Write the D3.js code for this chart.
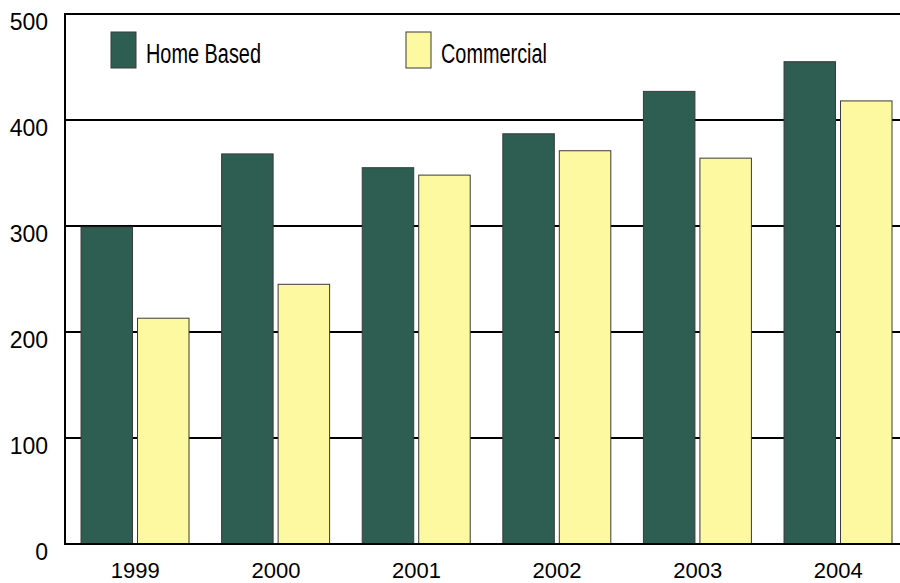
<!DOCTYPE html>
<html>
<head>
<meta charset="utf-8">
<script src="https://cdn.jsdelivr.net/npm/d3@7"></script>
<style>
  body { margin: 0; background: white; }
  text { font-family: "Liberation Sans", Arial, Helvetica, sans-serif; fill: #000; }
</style>
</head>
<body>
<div id="chart"></div>
<script>
// data
const years = ["1999", "2000", "2001", "2002", "2003", "2004"];
const seriesNames = ["Home Based", "Commercial"];
const homeBased = [299, 368, 355, 387, 427, 455];
const commercial = [213, 245, 348, 371, 364, 418];
const yTicks = [0, 100, 200, 300, 400, 500];

const colors = {"Home Based": "#2e5e52", "Commercial": "#fdf9a0"};

const width = 900, height = 583;
const margin = {top: 14, right: 0, bottom: 39, left: 65};

const svg = d3.select("#chart")
  .append("svg")
  .attr("width", width)
  .attr("height", height);

// bands run a bit past the right edge, like the original
const x0 = d3.scaleBand()
    .domain(years)
    .range([margin.left, margin.left + 843.6]);

const x1 = d3.scaleBand()
    .domain(seriesNames)
    .range([x0.bandwidth() * 0.114, x0.bandwidth() * 0.882])
    .paddingInner(0.0885);

const y = d3.scaleLinear()
    .domain([0, 500])
    .range([height - margin.bottom, margin.top]);

// horizontal grid lines
svg.append("g")
  .selectAll("line")
  .data(yTicks.filter(d => d > 0))
  .join("line")
  .attr("x1", margin.left)
  .attr("x2", width)
  .attr("y1", d => y(d))
  .attr("y2", d => y(d))
  .attr("stroke", "#000")
  .attr("stroke-width", 2);

// y labels, sit just under their line
svg.append("g")
  .selectAll("text")
  .data(yTicks)
  .join("text")
  .attr("x", 48)
  .attr("y", d => y(d) + 16)
  .attr("text-anchor", "end")
  .style("font-size", "23px")
  .text(d => d);

// bars
const rows = years.map((yr, i) => ({year: yr, values: [
  {key: "Home Based", value: homeBased[i]},
  {key: "Commercial", value: commercial[i]}
]}));

svg.append("g")
  .selectAll("g")
  .data(rows)
  .join("g")
  .attr("transform", d => `translate(${x0(d.year)},0)`)
  .selectAll("rect")
  .data(d => d.values)
  .join("rect")
  .attr("x", d => x1(d.key))
  .attr("width", x1.bandwidth())
  .attr("y", d => y(d.value))
  .attr("height", d => y(0) - y(d.value))
  .attr("fill", d => colors[d.key])
  .attr("stroke", "#3a3a3a")
  .attr("stroke-width", 1);

// axis lines
svg.append("line")
  .attr("x1", margin.left).attr("x2", margin.left)
  .attr("y1", y(500) - 1).attr("y2", y(0) + 1)
  .attr("stroke", "#000").attr("stroke-width", 2);
svg.append("line")
  .attr("x1", margin.left).attr("x2", width)
  .attr("y1", y(0)).attr("y2", y(0))
  .attr("stroke", "#000").attr("stroke-width", 2);

// x labels
svg.append("g")
  .selectAll("text")
  .data(years)
  .join("text")
  .attr("x", d => x0(d) + x0.bandwidth() / 2)
  .attr("y", 578)
  .attr("text-anchor", "middle")
  .style("font-size", "22px")
  .text(d => d);

// legend
const legendX = [111, 406];
const legendLen = [115, 106];
const legend = svg.append("g")
  .selectAll("g")
  .data(seriesNames)
  .join("g")
  .attr("transform", (d, i) => `translate(${legendX[i]},32)`);

legend.append("rect")
  .attr("width", 25)
  .attr("height", 36)
  .attr("fill", d => colors[d])
  .attr("stroke", "#3a3a3a")
  .attr("stroke-width", 1);

legend.append("text")
  .attr("x", 35)
  .attr("y", 31)
  .style("font-family", "'Liberation Sans Narrow', 'Liberation Sans', Arial, sans-serif")
  .style("font-size", "27px")
  .attr("textLength", (d, i) => legendLen[i])
  .attr("lengthAdjust", "spacingAndGlyphs")
  .text(d => d);
</script>
</body>
</html>
